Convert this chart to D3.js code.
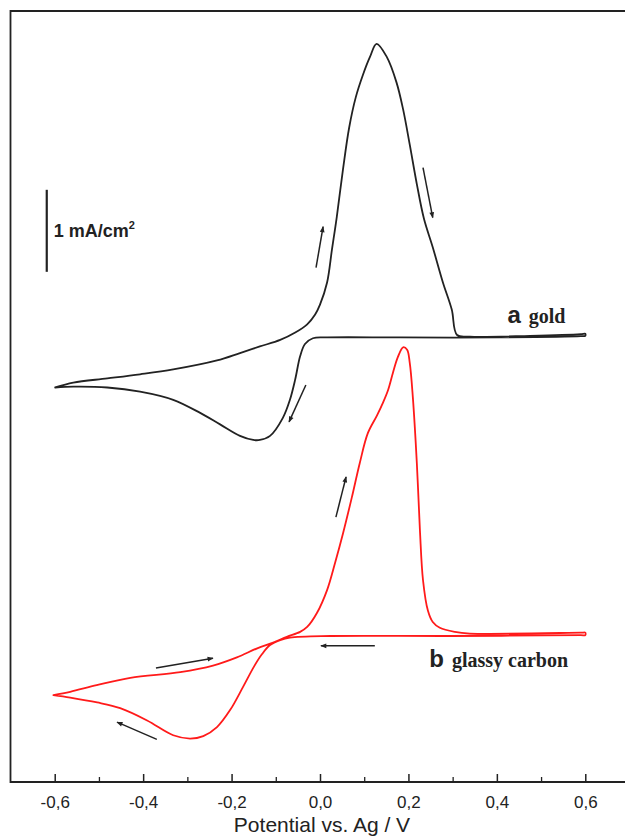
<!DOCTYPE html>
<html><head><meta charset="utf-8">
<script src="https://cdn.jsdelivr.net/npm/d3@7"></script>
<style>body{margin:0;background:#fff}svg{display:block}</style>
</head><body>
<svg id="c" width="625" height="838"></svg>
<script>
// ---- data ----
const xTicks = [-0.6,-0.4,-0.2,0.0,0.2,0.4,0.6];
const xMinor = [-0.5,-0.3,-0.1,0.1,0.3,0.5];
const xTickLabels = ["-0,6","-0,4","-0,2","0,0","0,2","0,4","0,6"];
const xTitle = "Potential vs. Ag / V";

// curve a (gold): potential (V), current (mA/cm2) relative to its own baseline
const goldE = [-0.599,-0.558,-0.481,-0.407,-0.332,-0.233,-0.181,-0.136,-0.090,-0.056,-0.029,-0.011,0.000,0.016,0.027,0.038,0.052,0.066,0.081,0.097,0.113,0.128,0.151,0.173,0.188,0.203,0.219,0.235,0.255,0.278,0.298,0.310,0.339,0.475,0.590,0.600,
  0.600,0.590,0.407,0.181,0.016,-0.016,-0.034,-0.045,-0.056,-0.068,-0.084,-0.113,-0.136,-0.151,-0.181,-0.226,-0.271,-0.332,-0.407,-0.481,-0.558,-0.599];
const goldI = [-0.62,-0.56,-0.51,-0.46,-0.40,-0.29,-0.20,-0.12,-0.04,0.05,0.15,0.27,0.39,0.66,1.06,1.46,2.04,2.55,2.92,3.19,3.41,3.57,3.41,3.10,2.77,2.34,1.86,1.44,1.09,0.66,0.33,0.02,0.0,0.01,0.03,0.035,
  0.01,0.005,-0.01,-0.01,-0.01,-0.02,-0.09,-0.24,-0.52,-0.77,-0.99,-1.21,-1.26,-1.26,-1.21,-1.07,-0.93,-0.77,-0.67,-0.62,-0.61,-0.62];
const goldOffset = 5.43;

// curve b (glassy carbon)
const gcE = [-0.603,-0.565,-0.505,-0.429,-0.316,-0.242,-0.188,-0.142,-0.106,-0.075,-0.045,-0.029,-0.007,0.016,0.034,0.052,0.072,0.090,0.108,0.129,0.142,0.154,0.165,0.176,0.188,0.197,0.203,0.210,0.219,0.226,0.233,0.244,0.255,0.271,0.305,0.339,0.590,0.600,
  0.600,0.590,0.294,0.023,-0.068,-0.090,-0.113,-0.131,-0.149,-0.174,-0.203,-0.233,-0.264,-0.294,-0.332,-0.391,-0.452,-0.504,-0.565,-0.603];
const gcI = [-0.73,-0.69,-0.61,-0.52,-0.45,-0.37,-0.27,-0.16,-0.09,-0.02,0.04,0.10,0.27,0.55,0.88,1.24,1.68,2.10,2.46,2.68,2.83,2.99,3.20,3.39,3.51,3.48,3.32,2.90,2.10,1.28,0.67,0.30,0.16,0.09,0.04,0.02,0.03,0.03,
  0.0,0.0,-0.01,-0.01,-0.03,-0.06,-0.12,-0.23,-0.38,-0.63,-0.91,-1.12,-1.23,-1.26,-1.22,-1.04,-0.89,-0.82,-0.76,-0.73];
const gcOffset = 1.79;

// scan-direction arrows: [E0, y0, E1, y1] in plot units
const arrows = [
  [-0.009,6.27, 0.007,6.77],
  [0.233,7.49, 0.255,6.88],
  [-0.032,4.84, -0.070,4.39],
  [0.036,3.23, 0.059,3.72],
  [0.124,1.66, 0.002,1.66],
  [-0.371,1.39, -0.242,1.51],
  [-0.369,0.52, -0.459,0.73]
];
// scale bar: 1 mA/cm2
const scaleBarE = -0.618, scaleBarY0 = 6.22, scaleBarLen = 1.0;
const labelA = ["a","gold"], labelB = ["b","glassy carbon"];

// ---- drawing ----
const svg = d3.select("#c");
const x = d3.scaleLinear().domain([-0.7,0.7]).range([10.5,629.5]);
const y = d3.scaleLinear().domain([0,9.4]).range([782,11]);

svg.append("defs").append("marker")
  .attr("id","ah").attr("viewBox","0 0 10 10").attr("refX",9).attr("refY",5)
  .attr("markerWidth",8).attr("markerHeight",6).attr("markerUnits","userSpaceOnUse")
  .attr("orient","auto")
  .append("path").attr("d","M0,1 L10,5 L0,9 Z").attr("fill","#222");

// frame
svg.append("path")
  .attr("d",`M${x(0.7)},${y(9.4)} H${x(-0.7)} V${y(0)} H${x(0.7)}`)
  .attr("fill","none").attr("stroke","#222").attr("stroke-width",1.8);

// x axis ticks (inward)
const ax = svg.append("g").attr("transform",`translate(0,${y(0)})`)
  .call(d3.axisBottom(x).tickValues(xTicks).tickSize(-8).tickPadding(14)
    .tickFormat((d,i)=>xTickLabels[i]));
ax.select(".domain").remove();
ax.selectAll("line").attr("stroke","#222").attr("stroke-width",1.5);
ax.selectAll("text").attr("font-family","Liberation Sans, Arial, sans-serif")
  .attr("font-size",17).attr("fill","#222");
const axm = svg.append("g").attr("transform",`translate(0,${y(0)})`)
  .call(d3.axisBottom(x).tickValues(xMinor).tickSize(-5).tickFormat(""));
axm.select(".domain").remove();
axm.selectAll("line").attr("stroke","#222").attr("stroke-width",1.3);

svg.append("text").attr("x",x(0)+2).attr("y",832).attr("text-anchor","middle")
  .attr("font-family","Liberation Sans, Arial, sans-serif").attr("font-size",21)
  .attr("fill","#222").text(xTitle);

const line = d3.line().curve(d3.curveCatmullRom.alpha(0.5));
const goldPts = goldE.map((e,i)=>[x(e), y(goldI[i]+goldOffset)]);
const gcPts = gcE.map((e,i)=>[x(e), y(gcI[i]+gcOffset)]);
svg.append("path").attr("d",line(goldPts)+"Z").attr("fill","none")
  .attr("stroke","#222").attr("stroke-width",1.8).attr("stroke-linejoin","round");
svg.append("path").attr("d",line(gcPts)+"Z").attr("fill","none")
  .attr("stroke","#ff1a1a").attr("stroke-width",1.8).attr("stroke-linejoin","round");

// arrows
svg.selectAll("line.arr").data(arrows).join("line").attr("class","arr")
  .attr("x1",d=>x(d[0])).attr("y1",d=>y(d[1])).attr("x2",d=>x(d[2])).attr("y2",d=>y(d[3]))
  .attr("stroke","#222").attr("stroke-width",1.5).attr("marker-end","url(#ah)");

// scale bar
svg.append("line").attr("x1",x(scaleBarE)).attr("x2",x(scaleBarE))
  .attr("y1",y(scaleBarY0)).attr("y2",y(scaleBarY0+scaleBarLen))
  .attr("stroke","#222").attr("stroke-width",2.2);
const sb = svg.append("text").attr("x",x(scaleBarE)+7).attr("y",(y(scaleBarY0)+y(scaleBarY0+scaleBarLen))/2+6)
  .attr("font-family","Liberation Sans, Arial, sans-serif").attr("font-weight","bold")
  .attr("font-size",18).attr("fill","#222");
sb.append("tspan").text("1 mA/cm");
sb.append("tspan").attr("font-size",11).attr("dy",-8).text("2");

// curve labels
function curveLabel(lbl, px, py){
  const t = svg.append("text").attr("x",px).attr("y",py).attr("fill","#222");
  t.append("tspan").attr("font-family","Liberation Sans, Arial, sans-serif")
    .attr("font-weight","bold").attr("font-size",24).text(lbl[0]);
  t.append("tspan").attr("font-family","Liberation Serif, Times New Roman, serif")
    .attr("font-weight","bold").attr("font-size",20).attr("dx",8).text(lbl[1]);
}
curveLabel(labelA, x(0.424), y(goldOffset+0.17));
curveLabel(labelB, x(0.247), y(gcOffset-0.39));
</script>
</body></html>
